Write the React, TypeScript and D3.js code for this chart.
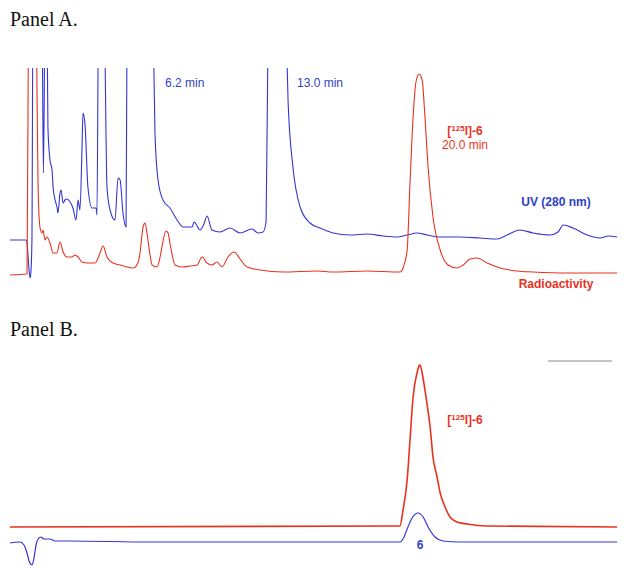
import React from "react";
import * as d3 from "d3";

// Retention time (min) and detector signal (arbitrary units).
// Off-scale peaks carry values above the panel top and are clipped.
const uvA_time = [0, 0.78, 0.83, 0.93, 0.98, 1.02, 1.07, 1.12, 1.51, 1.56, 1.63, 1.71, 1.8, 1.85, 1.95, 2.05, 2.1, 2.2, 2.29, 2.34, 2.44, 2.49, 2.59, 2.68, 2.78, 2.93, 3.07, 3.22, 3.32, 3.41, 3.51, 3.56, 3.66, 3.8, 4.0, 4.2, 4.24, 4.32, 4.59, 4.73, 4.88, 5.12, 5.27, 5.37, 5.51, 5.66, 5.71, 6.29, 6.98, 7.07, 7.22, 7.46, 7.8, 8.15, 8.44, 8.88, 8.98, 9.27, 9.46, 9.61, 9.85, 10.24, 10.73, 11.22, 11.8, 12.1, 12.34, 12.49, 12.59, 13.02, 13.46, 13.56, 13.8, 14.15, 14.63, 15.12, 15.76, 16.59, 17.41, 18.2, 18.88, 19.37, 19.85, 20.34, 20.98, 21.95, 22.93, 23.76, 24.24, 24.88, 25.51, 26.34, 26.73, 26.98, 27.46, 28.15, 28.78, 29.17, 29.61];
const uvA_signal = [17.5, 17.5, 16, 2.5, -1.5, 1.5, 17.5, 130, 130, 130, 51, 130, 130, 74, 57.5, 52.5, 44, 37.5, 34, 31, 41, 42.5, 36, 37.5, 38, 36.5, 33.5, 27.5, 37.5, 32.5, 62.5, 81, 75, 44, 33.5, 33.5, 30, 130, 130, 44, 32.5, 27.5, 48.5, 47.5, 31, 24, 130, 400, 130, 71, 47.5, 37.5, 33.5, 27.5, 24, 24, 26.5, 22.5, 25.5, 29.5, 22.5, 21.5, 23.5, 21, 23, 21, 21.5, 26.5, 130, 400, 130, 87.5, 54, 34, 26, 23.5, 21, 20, 20.5, 19.5, 19, 20, 21, 20, 19, 19, 18.5, 18, 20, 22.5, 21, 20, 21.5, 25, 23.5, 20, 18.5, 19.5, 19];

const radA_time = [0, 0.83, 0.9, 1.1, 1.29, 1.32, 1.37, 1.46, 1.56, 1.61, 1.71, 1.8, 1.95, 2.1, 2.29, 2.44, 2.59, 2.78, 3.02, 3.17, 3.32, 3.51, 3.8, 4.15, 4.39, 4.54, 4.73, 5.02, 5.37, 5.71, 6.0, 6.24, 6.34, 6.49, 6.59, 6.68, 6.83, 6.93, 7.17, 7.32, 7.41, 7.61, 7.71, 7.8, 8.05, 8.39, 8.78, 9.12, 9.37, 9.61, 9.85, 10.1, 10.34, 10.63, 10.93, 11.22, 11.56, 12.2, 13.32, 14.98, 15.76, 17.41, 19.02, 19.17, 19.37, 19.51, 19.66, 19.8, 19.95, 20.1, 20.24, 20.39, 20.63, 20.98, 21.37, 21.8, 22.1, 22.44, 22.78, 23.27, 23.9, 24.73, 25.51, 27.17, 29.61];
const radA_signal = [0, 0.5, 130, 400, 130, 87.5, 44, 24, 21, 22.5, 17.5, 19, 16, 11, 11, 16.5, 11.5, 9, 9, 10, 9, 6.5, 6, 6, 11, 14.5, 9, 6, 5, 4, 3.5, 6, 11, 24, 26, 21, 10, 5, 4, 9, 14, 22, 21, 16, 5, 4, 4.5, 5, 9, 6, 5, 6.5, 4, 9, 11.5, 8, 4, 2.5, 1.5, 2, 1.5, 2, 1.5, 3.5, 12.5, 46, 79, 96.5, 100.5, 97.5, 79, 54, 29, 12.5, 5, 3.5, 5, 8, 8.5, 6, 3.5, 2, 1.5, 1, 1];

const radB_time = [0, 19.02, 19.17, 19.37, 19.51, 19.66, 19.85, 19.95, 20.0, 20.1, 20.29, 20.49, 20.63, 20.83, 20.98, 21.22, 21.46, 21.8, 22.29, 23.27, 29.61];
const radB_signal = [9, 9.5, 17.5, 32.5, 52.5, 74, 86, 89.5, 90, 86, 74, 59, 44, 34, 26, 19, 14, 11.5, 10.5, 9.5, 9];

const uvB_time = [0, 0.49, 0.68, 0.83, 0.93, 1.07, 1.17, 1.27, 1.37, 1.51, 1.66, 1.95, 2.2, 2.93, 6.83, 14.15, 19.02, 19.17, 19.37, 19.61, 19.9, 20.15, 20.39, 20.73, 21.12, 21.95, 29.61];
const uvB_signal = [1, 1.5, 0, -4, -8, -10, -6.5, 0, 3, 4, 3, 3, 2, 2, 1.5, 1.5, 1.5, 3, 8, 13.5, 16, 14, 9, 4, 2, 1.5, 1.5];

const BLUE = "#3535d4";
const RED = "#e8321e";
const BLUE_TEXT = "#2f3fc6";
const SANS = "'Liberation Sans', Arial, sans-serif";
const SERIF = "'Liberation Serif', 'Times New Roman', serif";

function zip(t: number[], v: number[]): [number, number][] {
  return t.map((x, i) => [x, v[i]]);
}

export default function App() {
  const width = 629;
  const height = 572;
  const x = d3.scaleLinear().domain([0, 29.8]).range([10, 621]);
  const yA = d3.scaleLinear().domain([0, 100]).range([275, 75]);
  const yB = d3.scaleLinear().domain([0, 100]).range([545, 345]);

  const lineA = d3
    .line<[number, number]>()
    .curve(d3.curveMonotoneX)
    .x((d) => x(d[0]))
    .y((d) => yA(d[1]));
  const lineB = d3
    .line<[number, number]>()
    .curve(d3.curveMonotoneX)
    .x((d) => x(d[0]))
    .y((d) => yB(d[1]));

  return (
    <svg
      width={width}
      height={height}
      style={{ position: "absolute", left: 0, top: 0, background: "#fff" }}
    >
      <defs>
        <clipPath id="clipA">
          <rect x={0} y={68} width={width} height={240} />
        </clipPath>
      </defs>
      <rect x={0} y={0} width={width} height={height} fill="#fff" />

      <text x={10} y={26} fontFamily={SERIF} fontSize={20} fill="#111">
        Panel A.
      </text>

      <g clipPath="url(#clipA)" fill="none" strokeWidth={1.1} strokeLinejoin="round">
        <path d={lineA(zip(uvA_time, uvA_signal)) || ""} stroke={BLUE} />
        <path d={lineA(zip(radA_time, radA_signal)) || ""} stroke={RED} />
      </g>

      <text x={165} y={87} fontFamily={SANS} fontSize={12} fill={BLUE_TEXT}>
        6.2 min
      </text>
      <text x={297} y={87} fontFamily={SANS} fontSize={12} fill={BLUE_TEXT}>
        13.0 min
      </text>
      <text x={465} y={135} fontFamily={SANS} fontSize={12} fontWeight="bold" fill={RED} textAnchor="middle">
        [<tspan fontSize={8} dy={-4}>125</tspan>
        <tspan dy={4}>I]-6</tspan>
      </text>
      <text x={465} y={149} fontFamily={SANS} fontSize={12} fill={RED} textAnchor="middle">
        20.0 min
      </text>
      <text x={556} y={206} fontFamily={SANS} fontSize={12} fontWeight="bold" fill={BLUE_TEXT} textAnchor="middle">
        UV (280 nm)
      </text>
      <text x={556} y={288} fontFamily={SANS} fontSize={12} fontWeight="bold" fill={RED} textAnchor="middle">
        Radioactivity
      </text>

      <text x={10} y={336} fontFamily={SERIF} fontSize={20} fill="#111">
        Panel B.
      </text>

      <line x1={548} x2={612} y1={361} y2={361} stroke="#888" strokeWidth={1} />

      <g fill="none" strokeLinejoin="round">
        <path d={lineB(zip(radB_time, radB_signal)) || ""} stroke={RED} strokeWidth={1.6} />
        <path d={lineB(zip(uvB_time, uvB_signal)) || ""} stroke={BLUE} strokeWidth={1.2} />
      </g>

      <text x={465} y={424} fontFamily={SANS} fontSize={12} fontWeight="bold" fill={RED} textAnchor="middle">
        [<tspan fontSize={8} dy={-4}>125</tspan>
        <tspan dy={4}>I]-6</tspan>
      </text>
      <text x={420} y={549} fontFamily={SANS} fontSize={12} fontWeight="bold" fill={BLUE_TEXT} textAnchor="middle">
        6
      </text>
    </svg>
  );
}
